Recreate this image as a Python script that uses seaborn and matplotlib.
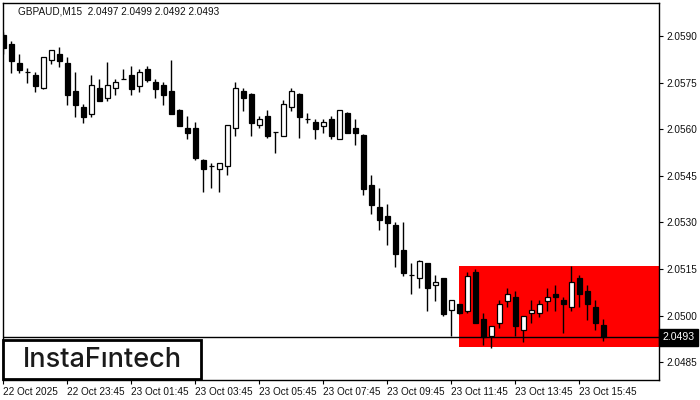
import matplotlib
matplotlib.use("Agg")
import matplotlib.pyplot as plt
from matplotlib.patches import Rectangle
import seaborn as sns
import numpy as np
import pandas as pd

symbol_title = "GBPAUD,M15  2.0497 2.0499 2.0492 2.0493"

opens = [2.05903, 2.05874, 2.05814, 2.05783, 2.05774, 2.05732, 2.05822, 2.05842, 2.05812, 2.05723,
         2.05671, 2.05650, 2.05732, 2.05701, 2.05732, 2.05761, 2.05774, 2.05740, 2.05794, 2.05751,
         2.05742, 2.05723, 2.05662, 2.05604, 2.05604, 2.05501, 2.05483, 2.05471, 2.05481, 2.05603,
         2.05723, 2.05713, 2.05613, 2.05642, 2.05590, 2.05579, 2.05670, 2.05713, 2.05632, 2.05622,
         2.05611, 2.05633, 2.05569, 2.05652, 2.05604, 2.05581, 2.05420, 2.05350, 2.05321, 2.05292,
         2.05211, 2.05131, 2.05120, 2.05168, 2.05098, 2.05120, 2.05017, 2.05037, 2.05016, 2.05139,
         2.04988, 2.04936, 2.04978, 2.05048, 2.05059, 2.04955, 2.05007, 2.05007, 2.05048, 2.05069,
         2.05049, 2.05027, 2.05120, 2.05078, 2.05027, 2.04970]
highs = [2.05914, 2.05884, 2.05842, 2.05796, 2.05785, 2.05833, 2.05855, 2.05865, 2.05831, 2.05783,
         2.05681, 2.05774, 2.05762, 2.05815, 2.05762, 2.05794, 2.05803, 2.05794, 2.05803, 2.05762,
         2.05751, 2.05823, 2.05664, 2.05642, 2.05623, 2.05503, 2.05490, 2.05490, 2.05613, 2.05753,
         2.05734, 2.05715, 2.05642, 2.05663, 2.05590, 2.05694, 2.05732, 2.05715, 2.05651, 2.05632,
         2.05632, 2.05642, 2.05663, 2.05654, 2.05633, 2.05583, 2.05453, 2.05411, 2.05359, 2.05300,
         2.05300, 2.05170, 2.05179, 2.05170, 2.05131, 2.05122, 2.05051, 2.05037, 2.05139, 2.05149,
         2.05007, 2.04968, 2.05049, 2.05088, 2.05078, 2.05000, 2.05050, 2.05050, 2.05088, 2.05098,
         2.05059, 2.05160, 2.05131, 2.05098, 2.05050, 2.04990]
lows = [2.05841, 2.05782, 2.05782, 2.05750, 2.05721, 2.05730, 2.05811, 2.05801, 2.05678, 2.05640,
        2.05621, 2.05640, 2.05690, 2.05692, 2.05710, 2.05760, 2.05710, 2.05721, 2.05751, 2.05701,
        2.05678, 2.05648, 2.05609, 2.05569, 2.05500, 2.05399, 2.05410, 2.05399, 2.05453, 2.05579,
        2.05660, 2.05579, 2.05603, 2.05571, 2.05522, 2.05577, 2.05660, 2.05571, 2.05621, 2.05569,
        2.05589, 2.05569, 2.05567, 2.05587, 2.05549, 2.05388, 2.05327, 2.05276, 2.05227, 2.05157,
        2.05127, 2.05069, 2.05088, 2.05016, 2.05047, 2.04998, 2.04934, 2.05005, 2.05007, 2.04976,
        2.04905, 2.04897, 2.04960, 2.05027, 2.04935, 2.04916, 2.04977, 2.04996, 2.05016, 2.05016,
        2.04945, 2.05016, 2.05027, 2.04987, 2.04954, 2.04920]
closes = [2.05862, 2.05820, 2.05791, 2.05783, 2.05739, 2.05831, 2.05855, 2.05820, 2.05710, 2.05678,
          2.05640, 2.05742, 2.05692, 2.05742, 2.05751, 2.05761, 2.05730, 2.05783, 2.05759, 2.05730,
          2.05711, 2.05650, 2.05611, 2.05588, 2.05508, 2.05471, 2.05483, 2.05490, 2.05613, 2.05732,
          2.05701, 2.05621, 2.05633, 2.05579, 2.05590, 2.05680, 2.05723, 2.05640, 2.05632, 2.05602,
          2.05623, 2.05579, 2.05661, 2.05589, 2.05589, 2.05408, 2.05357, 2.05309, 2.05299, 2.05199,
          2.05138, 2.05131, 2.05177, 2.05088, 2.05107, 2.05006, 2.05049, 2.05007, 2.05128, 2.04978,
          2.04930, 2.04966, 2.05036, 2.05069, 2.04967, 2.04998, 2.05017, 2.05036, 2.05059, 2.05059,
          2.05036, 2.05107, 2.05069, 2.05036, 2.04977, 2.04930]

x_tick_index = [0, 8, 16, 24, 32, 40, 48, 56, 64, 72]
x_tick_labels = ["22 Oct 2025", "22 Oct 23:45", "23 Oct 01:45", "23 Oct 03:45", "23 Oct 05:45",
                 "23 Oct 07:45", "23 Oct 09:45", "23 Oct 11:45", "23 Oct 13:45", "23 Oct 15:45"]
y_ticks = [2.0485, 2.0500, 2.0515, 2.0530, 2.0545, 2.0560, 2.0575, 2.0590]

zone_start = 57
zone_low = 2.0490
zone_high = 2.0516
current_price = 2.0493

df = pd.DataFrame({"open": opens, "high": highs, "low": lows, "close": closes})
df["idx"] = np.arange(len(df))
df["bull"] = df["close"] >= df["open"]

sns.set_theme(style="white")
plt.rcParams["font.family"] = ["Liberation Sans", "DejaVu Sans"]

fig = plt.figure(figsize=(7, 4), dpi=100)
W, H = 700, 400
ax = fig.add_axes([3 / W, 20 / H, 656 / W, 377 / H])
ax.set_facecolor("white")

ax.set_xlim(-0.04, 81.96)
ax.set_ylim(2.04793, 2.06006)

# red zone
ax.add_patch(Rectangle((zone_start - 0.04, zone_low), 82 - zone_start, zone_high - zone_low,
                       facecolor="#ff0000", edgecolor="none", zorder=1))

# wicks
ax.vlines(df["idx"], df["low"], df["high"], color="black", linewidth=1.0, zorder=2)
# bodies
bottoms = np.minimum(df["open"], df["close"])
heights = np.abs(df["close"] - df["open"])
colors = np.where(df["bull"], "white", "black")
ax.bar(df["idx"], heights, bottom=bottoms, width=0.62, color=colors,
       edgecolor="black", linewidth=0.9, zorder=3)

# current price line
ax.axhline(current_price, color="black", linewidth=1.0, zorder=4)

for s in ax.spines.values():
    s.set_color("black")
    s.set_linewidth(1.0)
    s.set_visible(True)

ax.yaxis.tick_right()
ax.set_yticks(y_ticks)
ax.set_yticklabels([f"{v:.4f}" for v in y_ticks], fontsize=7.2, color="#111111")
ax.tick_params(axis="y", direction="out", length=3, width=0.8, color="black", pad=2, right=True, left=False)
ax.set_xticks(x_tick_index)
ax.set_xticklabels(x_tick_labels, fontsize=7.2, color="#111111", ha="left")
ax.tick_params(axis="x", direction="out", length=3, width=0.8, color="black", pad=2, bottom=True)
ax.grid(False)

# price tag
ax.text(1.005, current_price, "2.0493", transform=ax.get_yaxis_transform(), fontsize=7.6,
        color="white", va="center", ha="left", clip_on=False, zorder=6,
        bbox=dict(boxstyle="square,pad=0.3", facecolor="black", edgecolor="black"))

# title
fig.text(18 / W, 1 - 12 / H, symbol_title, fontsize=7.2, color="#111111", va="center", ha="left")

# logo
fig.add_artist(Rectangle((3 / W, 1 - 379 / H), 198 / W, 39 / H, transform=fig.transFigure,
                         facecolor="white", edgecolor="black", linewidth=2.0, zorder=10))
fig.text(102 / W, 1 - 360 / H, "InstaFıntech", fontsize=19.5, color="#1a1a1a", va="center",
         ha="center", family=["Inter", "DejaVu Sans"], fontweight="medium", zorder=11)

fig.savefig("out.png", dpi=100)
